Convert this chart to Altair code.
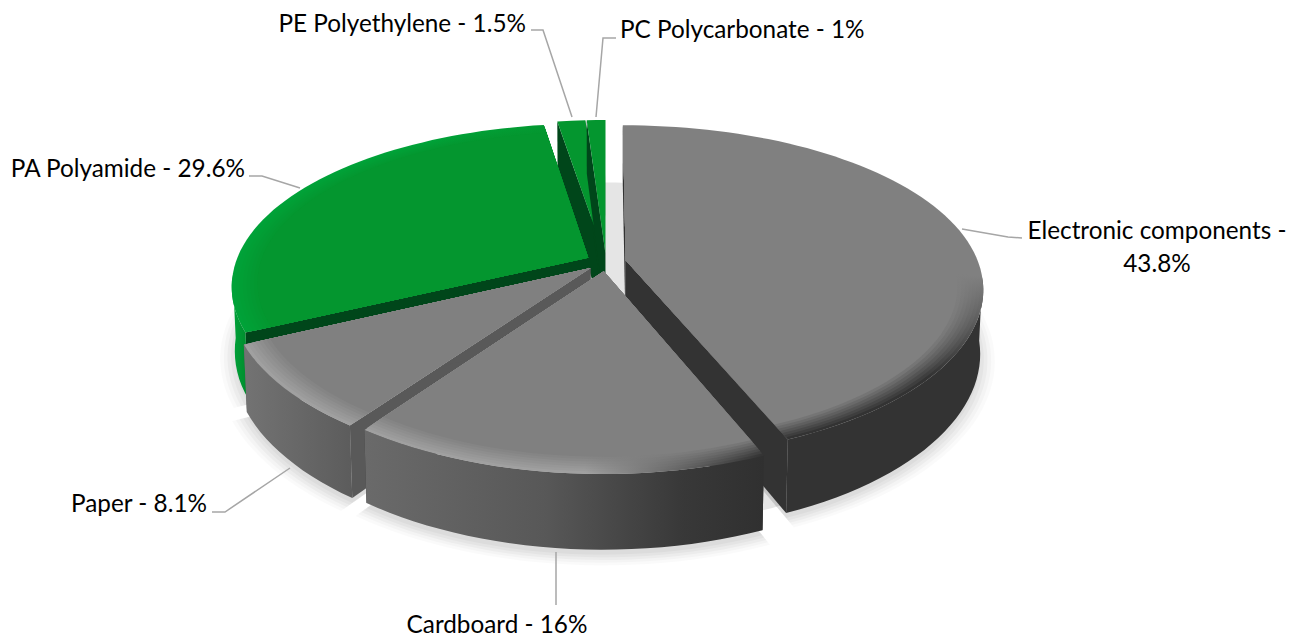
import math
import altair as alt
import pandas as pd

# ---- chart values -------------------------------------------------------
names = ["Electronic components", "Cardboard", "Paper", "PA Polyamide",
         "PE Polyethylene", "PC Polycarbonate"]
shares = [43.8, 16, 8.1, 29.6, 1.5, 1]

# ---- view / projection of the tilted disc ---------------------------------
W, H_VIEW = 1290, 629
CX, CY = 606.0, 262.0
RX, RY = 352.5, 160.9
KX, KY, M, THICK = 0.17, 0.1875, 0.008, 63.0
EXPLODE = 0.057
FONT = "Lato"
FS = 24.3

x_enc = alt.X("x:Q", axis=None, scale=alt.Scale(domain=[8, 8 + W], nice=False, zero=False))
y_enc = alt.Y("y:Q", axis=None, scale=alt.Scale(domain=[8 + H_VIEW, 8], nice=False, zero=False))


def project(u, v, z=0.0):
    dx = 1 - KX * v + M * z
    dy = 1 - KY * v + M * z
    return CX + RX * u / dx, CY + (RY * v + THICK * z) / dy


def mix(a, b, t):
    ca = [int(a[i:i + 2], 16) for i in (1, 3, 5)]
    cb = [int(b[i:i + 2], 16) for i in (1, 3, 5)]
    return "#" + "".join(f"{round(p + (q - p) * t):02x}" for p, q in zip(ca, cb))


def grad(stops, horizontal=True):
    return alt.Gradient(
        gradient="linear",
        stops=[alt.GradientStop(color=c, offset=o) for o, c in stops],
        x1=0, y1=0, x2=1 if horizontal else 0, y2=0 if horizontal else 1,
    )


def poly(points, fill, opacity=None):
    df = pd.DataFrame([{"x": round(p[0], 1), "y": round(p[1], 1), "i": i} for i, p in enumerate(points)])
    kw = {"fill": fill, "strokeWidth": 0, "stroke": "transparent"}
    if opacity is not None:
        kw["opacity"] = opacity
    return alt.Chart(df).mark_line(**kw).encode(x=x_enc, y=y_enc, order=alt.Order("i:Q"))


# slice geometry from the shares
slices = {}
acc = 0.0
for n, s in zip(names, shares):
    a0, a1 = acc * 3.6, (acc + s) * 3.6
    slices[n] = (a0, a1, (a0 + a1) / 2)
    acc += s


def point(name, ang, r=1.0, z=0.0, explode=EXPLODE):
    mid = math.radians(slices[name][2])
    a = math.radians(ang)
    u = r * math.sin(a) + explode * math.sin(mid)
    v = -r * math.cos(a) - explode * math.cos(mid)
    return project(u, v, z)


def arc(name, r=1.0, z=0.0, explode=EXPLODE, lo=None, hi=None):
    a0, a1, _ = slices[name]
    if lo is not None:
        a0 = max(a0, lo)
    if hi is not None:
        a1 = min(a1, hi)
    if a1 <= a0:
        return []
    n = max(2, int((a1 - a0) / 2))
    return [point(name, a0 + (a1 - a0) * i / n, r, z, explode) for i in range(n + 1)]


def sector(name, r=1.0, z=0.0, explode=EXPLODE):
    return [point(name, 0, 0, z, explode)] + arc(name, r, z, explode)


def shift(points, dy):
    return [(p[0], p[1] + dy) for p in points]


# colour description of each slice
G_TOP, G_FACE = "#04962f", "#00461a"
styles = {
    "Electronic components": dict(
        top="#808080", face="#333333",
        wall="#333333",
        rim=("v", "#333333", "#333333")),
    "Cardboard": dict(
        top="#808080", face="#333333",
        wall=grad([(0, "#6a6a6a"), (0.45, "#585858"), (0.8, "#383838"), (1, "#303030")]),
        rim=("h", "#a0a0a0", "#333333")),
    "Paper": dict(
        top="#808080", face="#595959",
        wall=grad([(0, "#737373"), (1, "#5c5c5c")]),
        rim=("h", "#a0a0a0", "#a0a0a0")),
    "PA Polyamide": dict(
        top=G_TOP, face=G_FACE,
        wall=grad([(0, "#00a43a"), (1, "#008a2c")]),
        rim=("h", "#00a238", G_TOP)),
    "PE Polyethylene": dict(top=G_TOP, face=G_FACE, wall=G_TOP, rim=None),
    "PC Polycarbonate": dict(top=G_TOP, face=G_FACE, wall=G_TOP, rim=None),
}

layers = []

# soft shadow on the ground
for scale, op in [(1.04, 0.02), (1.03, 0.025), (1.02, 0.03), (1.01, 0.03), (1.0, 0.03)]:
    for n in names:
        layers.append(poly(shift(sector(n, scale, 1.0), 5), "#000000", op))
layers.append(poly(arc("Electronic components", 0.98, 1.0, 0) + arc("Cardboard", 0.98, 1.0, 0)
                   + arc("Paper", 0.98, 1.0, 0) + arc("PA Polyamide", 0.98, 1.0, 0)
                   + arc("PE Polyethylene", 0.98, 1.0, 0) + arc("PC Polycarbonate", 0.98, 1.0, 0),
                   "#000000", 0.1))

# painter's order, back to front
RINGS = [1.0, 0.99, 0.98, 0.97, 0.96, 0.95, 0.94]
WALL_LO, WALL_HI = 96, 264
for n in ["PE Polyethylene", "PC Polycarbonate", "PA Polyamide",
          "Electronic components", "Paper", "Cardboard"]:
    st = styles[n]
    a0, a1, _ = slices[n]
    for ang in (a0, a1):
        layers.append(poly([point(n, ang, 0, 0), point(n, ang, 1, 0),
                            point(n, ang, 1, 1), point(n, ang, 0, 1)], st["face"]))
    top_arc = arc(n, 1, 0, lo=WALL_LO, hi=WALL_HI)
    if top_arc:
        layers.append(poly(top_arc + list(reversed(arc(n, 1, 1, lo=WALL_LO, hi=WALL_HI))), st["wall"]))
    if st["rim"] is None:
        layers.append(poly(sector(n), st["top"]))
    else:
        mode, c_a, c_b = st["rim"]
        for idx, r in enumerate(RINGS):
            t = 1 - idx / len(RINGS)
            if mode == "v":
                col_end = mix(st["top"], c_b, t)
                fill = grad([(0, st["top"]), (0.48, st["top"]), (0.8, col_end), (1, col_end)], horizontal=False)
            else:
                col_l = mix(st["top"], c_a, t)
                col_r = mix(st["top"], c_b, t)
                fill = grad([(0, col_l), (0.55, col_l), (1, col_r)])
            layers.append(poly(sector(n, r), fill))
        layers.append(poly(sector(n, RINGS[-1] - 0.01), st["top"]))

# leader lines and labels (annotation placement)
leaders = {
    "PC Polycarbonate": [(596, 117), (603, 38), (616, 38)],
    "PE Polyethylene": [(572, 117), (543, 30), (531, 30)],
    "PA Polyamide": [(300, 188), (262, 176), (249, 176)],
    "Electronic components": [(962, 229), (1008, 237), (1022, 238)],
    "Paper": [(290, 468), (225, 512), (212, 512)],
    "Cardboard": [(556, 552), (556, 605)],
}
rows = [{"x": x, "y": y, "n": n, "i": i} for n, pts in leaders.items() for i, (x, y) in enumerate(pts)]
layers.append(alt.Chart(pd.DataFrame(rows)).mark_line(stroke="#a6a6a6", strokeWidth=1.5).encode(
    x=x_enc, y=y_enc, detail="n:N", order=alt.Order("i:Q")))

lab = {n: f"{n} - {s}%" for n, s in zip(names, shares)}
label_pos = [
    ("PC Polycarbonate", 620, 31, "left"),
    ("PE Polyethylene", 526, 25, "right"),
    ("PA Polyamide", 245, 170, "right"),
    ("Paper", 207, 505, "right"),
    ("Cardboard", 497, 626, "center"),
    ("Electronic components", 1157, 234, "center"),
]
for n, x, y, align in label_pos:
    txt = lab[n]
    if n == "Electronic components":
        txt = f"{n} -\n{shares[0]}%"
    df = pd.DataFrame([{"x": x, "y": y, "t": txt}])
    layers.append(alt.Chart(df).mark_text(
        align=align, baseline="top" if "\n" in txt else "middle", font=FONT, fontSize=FS, color="#000000",
        lineBreak="\n", lineHeight=33, dy=-14 if "\n" in txt else 0,
    ).encode(x=x_enc, y=y_enc, text="t:N"))

chart = alt.layer(*layers).properties(
    width=W, height=H_VIEW, padding=0, background="#ffffff",
    autosize=alt.AutoSizeParams(type="none"),
).configure_view(stroke=None)

chart.save("out.html", embed_options={"renderer": "svg", "actions": False})
